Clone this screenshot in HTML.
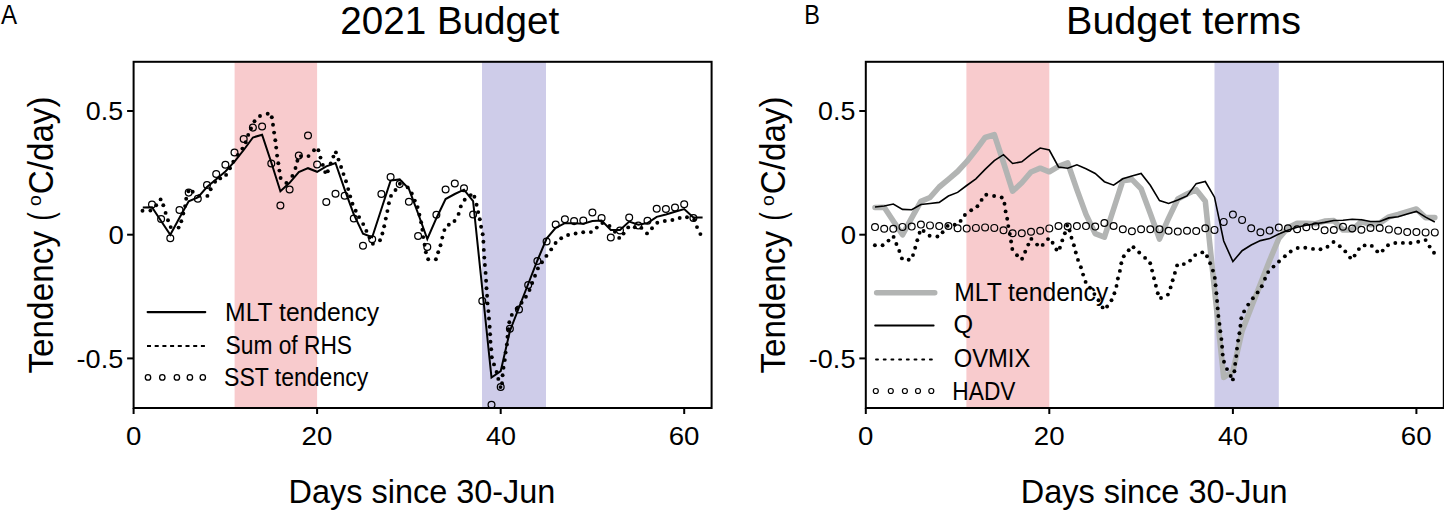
<!DOCTYPE html>
<html><head><meta charset="utf-8"><style>
html,body{margin:0;padding:0;background:#fff;overflow:hidden;}
svg{display:block;}
text{font-family:"Liberation Sans", sans-serif;fill:#000;}
</style></head><body>
<svg width="1444" height="510" viewBox="0 0 1444 510">
<text x="1.01" y="24.1" font-size="28.4" textLength="16.09" lengthAdjust="spacingAndGlyphs">A</text>
<text x="804.27" y="24.1" font-size="28.4" textLength="15.67" lengthAdjust="spacingAndGlyphs">B</text>
<text x="340.26" y="34.0" font-size="39.5" textLength="219.02" lengthAdjust="spacingAndGlyphs">2021 Budget</text>
<text x="1066.06" y="34.0" font-size="39.5" textLength="234.97" lengthAdjust="spacingAndGlyphs">Budget terms</text>
<rect x="234.6" y="61.8" width="82.5" height="346.2" fill="#f8cbcd"/>
<rect x="482.0" y="61.8" width="64.0" height="346.2" fill="#cecce9"/>
<g fill="#000"><circle cx="142.5" cy="210.8" r="1.95"/><circle cx="150.4" cy="210.6" r="1.95"/><circle cx="156.2" cy="205.3" r="1.95"/><circle cx="160.6" cy="199.4" r="1.95"/><circle cx="163.3" cy="205.3" r="1.95"/><circle cx="165.6" cy="212.9" r="1.95"/><circle cx="168" cy="220.2" r="1.95"/><circle cx="170.7" cy="227.1" r="1.95"/><circle cx="178.6" cy="227.6" r="1.95"/><circle cx="181.3" cy="221.2" r="1.95"/><circle cx="183.3" cy="213.5" r="1.95"/><circle cx="185.1" cy="206.1" r="1.95"/><circle cx="186.2" cy="198.8" r="1.95"/><circle cx="188.4" cy="191.2" r="1.95"/><circle cx="192.7" cy="191.8" r="1.95"/><circle cx="199.2" cy="195.9" r="1.95"/><circle cx="207.4" cy="195.9" r="1.95"/><circle cx="210.7" cy="189.2" r="1.95"/><circle cx="215.1" cy="181.8" r="1.95"/><circle cx="220.2" cy="178.4" r="1.95"/><circle cx="226.1" cy="174.9" r="1.95"/><circle cx="230" cy="168.2" r="1.95"/><circle cx="233.3" cy="161.8" r="1.95"/><circle cx="237.8" cy="154.9" r="1.95"/><circle cx="242.4" cy="148.6" r="1.95"/><circle cx="245.7" cy="142.2" r="1.95"/><circle cx="248.2" cy="134.9" r="1.95"/><circle cx="251" cy="128.4" r="1.95"/><circle cx="254.5" cy="121.2" r="1.95"/><circle cx="260" cy="116" r="1.95"/><circle cx="267.7" cy="113.8" r="1.95"/><circle cx="271.8" cy="117.3" r="1.95"/><circle cx="273" cy="124.7" r="1.95"/><circle cx="274.1" cy="132.6" r="1.95"/><circle cx="275.3" cy="140.2" r="1.95"/><circle cx="276.2" cy="147.6" r="1.95"/><circle cx="277.1" cy="155.6" r="1.95"/><circle cx="278.3" cy="163.2" r="1.95"/><circle cx="279.4" cy="170.6" r="1.95"/><circle cx="280.6" cy="178" r="1.95"/><circle cx="286.4" cy="182.9" r="1.95"/><circle cx="292.4" cy="175.9" r="1.95"/><circle cx="295.5" cy="168" r="1.95"/><circle cx="297.4" cy="160.8" r="1.95"/><circle cx="300.9" cy="156.1" r="1.95"/><circle cx="308.5" cy="156.1" r="1.95"/><circle cx="314" cy="150.3" r="1.95"/><circle cx="318.4" cy="150.3" r="1.95"/><circle cx="320.5" cy="157.6" r="1.95"/><circle cx="322.8" cy="164.9" r="1.95"/><circle cx="325.2" cy="172.1" r="1.95"/><circle cx="327.8" cy="171.2" r="1.95"/><circle cx="330.7" cy="163.5" r="1.95"/><circle cx="333.4" cy="156.6" r="1.95"/><circle cx="335.9" cy="152.4" r="1.95"/><circle cx="338.5" cy="159.6" r="1.95"/><circle cx="341.1" cy="167" r="1.95"/><circle cx="343.5" cy="174.1" r="1.95"/><circle cx="346" cy="181.3" r="1.95"/><circle cx="348.2" cy="189.1" r="1.95"/><circle cx="350.2" cy="196.4" r="1.95"/><circle cx="352.5" cy="203.7" r="1.95"/><circle cx="355.7" cy="210.8" r="1.95"/><circle cx="359.1" cy="217.1" r="1.95"/><circle cx="363.2" cy="224.1" r="1.95"/><circle cx="366.4" cy="230.9" r="1.95"/><circle cx="369.5" cy="237.5" r="1.95"/><circle cx="372.9" cy="243.7" r="1.95"/><circle cx="380" cy="240.3" r="1.95"/><circle cx="382.4" cy="233.5" r="1.95"/><circle cx="384.2" cy="226.2" r="1.95"/><circle cx="385.8" cy="218.6" r="1.95"/><circle cx="387.4" cy="211.1" r="1.95"/><circle cx="388.9" cy="203.3" r="1.95"/><circle cx="391" cy="195.9" r="1.95"/><circle cx="395.5" cy="190" r="1.95"/><circle cx="399.9" cy="183.8" r="1.95"/><circle cx="407.7" cy="187.4" r="1.95"/><circle cx="411.8" cy="193.5" r="1.95"/><circle cx="414.8" cy="200.6" r="1.95"/><circle cx="417.6" cy="207.1" r="1.95"/><circle cx="419.4" cy="214.7" r="1.95"/><circle cx="421.1" cy="222.3" r="1.95"/><circle cx="422.4" cy="229.7" r="1.95"/><circle cx="423.2" cy="237.1" r="1.95"/><circle cx="424.6" cy="244.7" r="1.95"/><circle cx="425.9" cy="252.3" r="1.95"/><circle cx="428.2" cy="259.3" r="1.95"/><circle cx="435.9" cy="259.3" r="1.95"/><circle cx="438.2" cy="252.3" r="1.95"/><circle cx="440.5" cy="245.2" r="1.95"/><circle cx="442.3" cy="237.6" r="1.95"/><circle cx="444.4" cy="230.1" r="1.95"/><circle cx="448.8" cy="224.8" r="1.95"/><circle cx="454.5" cy="221" r="1.95"/><circle cx="458.6" cy="213.9" r="1.95"/><circle cx="460.8" cy="206.4" r="1.95"/><circle cx="464.7" cy="199.7" r="1.95"/><circle cx="470.7" cy="195.1" r="1.95"/><circle cx="474.4" cy="196.7" r="1.95"/><circle cx="476.6" cy="204.8" r="1.95"/><circle cx="478.2" cy="212.1" r="1.95"/><circle cx="479.8" cy="219.3" r="1.95"/><circle cx="481.1" cy="226.7" r="1.95"/><circle cx="482.7" cy="234.2" r="1.95"/><circle cx="483.4" cy="241.8" r="1.95"/><circle cx="483.8" cy="249.9" r="1.95"/><circle cx="484.3" cy="257.6" r="1.95"/><circle cx="484.9" cy="265" r="1.95"/><circle cx="485.6" cy="272.9" r="1.95"/><circle cx="486.1" cy="280.8" r="1.95"/><circle cx="486.5" cy="288.3" r="1.95"/><circle cx="487.1" cy="295.7" r="1.95"/><circle cx="487.5" cy="303.4" r="1.95"/><circle cx="488.4" cy="311.1" r="1.95"/><circle cx="489" cy="318.5" r="1.95"/><circle cx="489.7" cy="326.7" r="1.95"/><circle cx="490.1" cy="334.2" r="1.95"/><circle cx="490.5" cy="341.8" r="1.95"/><circle cx="491.2" cy="349.3" r="1.95"/><circle cx="491.8" cy="357.3" r="1.95"/><circle cx="494" cy="364.4" r="1.95"/><circle cx="496.6" cy="372" r="1.95"/><circle cx="498.3" cy="378.9" r="1.95"/><circle cx="500.5" cy="387.1" r="1.95"/><circle cx="502" cy="383.2" r="1.95"/><circle cx="502.6" cy="375.2" r="1.95"/><circle cx="503.5" cy="367.7" r="1.95"/><circle cx="504.8" cy="360.1" r="1.95"/><circle cx="505.6" cy="352.6" r="1.95"/><circle cx="506.9" cy="344.4" r="1.95"/><circle cx="507.5" cy="336.8" r="1.95"/><circle cx="508.5" cy="329.3" r="1.95"/><circle cx="509.3" cy="322.2" r="1.95"/><circle cx="511.8" cy="314.9" r="1.95"/><circle cx="516.7" cy="308.8" r="1.95"/><circle cx="521.6" cy="302.7" r="1.95"/><circle cx="525.9" cy="296.7" r="1.95"/><circle cx="529.5" cy="290" r="1.95"/><circle cx="532.2" cy="283" r="1.95"/><circle cx="535" cy="275.8" r="1.95"/><circle cx="537.9" cy="268.4" r="1.95"/><circle cx="542" cy="262.2" r="1.95"/><circle cx="546.4" cy="255.9" r="1.95"/><circle cx="551.2" cy="249.4" r="1.95"/><circle cx="555.6" cy="243" r="1.95"/><circle cx="561.2" cy="238.2" r="1.95"/><circle cx="568.1" cy="235" r="1.95"/><circle cx="575.6" cy="233.5" r="1.95"/><circle cx="583.2" cy="232.2" r="1.95"/><circle cx="590.9" cy="232.1" r="1.95"/><circle cx="596.8" cy="227.6" r="1.95"/><circle cx="602.4" cy="223" r="1.95"/><circle cx="609.5" cy="226" r="1.95"/><circle cx="614.9" cy="231.7" r="1.95"/><circle cx="619.2" cy="237.9" r="1.95"/><circle cx="623.6" cy="233.6" r="1.95"/><circle cx="628.2" cy="227.4" r="1.95"/><circle cx="634.8" cy="227.3" r="1.95"/><circle cx="641.4" cy="227.9" r="1.95"/><circle cx="647" cy="233.4" r="1.95"/><circle cx="652" cy="228.2" r="1.95"/><circle cx="657.3" cy="222.8" r="1.95"/><circle cx="664.8" cy="221" r="1.95"/><circle cx="672.4" cy="220" r="1.95"/><circle cx="679.7" cy="218" r="1.95"/><circle cx="687" cy="217.3" r="1.95"/><circle cx="694.2" cy="219.7" r="1.95"/><circle cx="697" cy="227.1" r="1.95"/><circle cx="700.4" cy="234.1" r="1.95"/></g>
<polyline points="142.8,207.5 152.0,207.3 161.1,221.0 170.3,234.8 179.5,217.8 188.7,201.3 197.8,197.5 207.0,187.0 216.2,179.3 225.4,171.5 234.5,161.7 243.7,150.0 252.9,137.5 262.1,134.7 271.3,162.5 280.4,191.2 289.6,182.8 298.8,172.0 308.0,168.2 317.1,171.8 326.3,166.3 335.5,163.0 344.7,189.7 353.8,214.4 363.0,233.6 372.2,237.2 381.4,209.0 390.6,180.6 399.7,179.4 408.9,188.8 418.1,213.5 427.3,239.0 436.4,218.2 445.6,199.0 454.8,194.0 464.0,189.7 473.1,201.2 482.3,289.0 491.5,377.5 500.7,371.2 509.9,331.0 519.0,307.5 528.2,284.0 537.4,260.5 546.6,238.5 555.7,227.8 564.9,223.2 574.1,223.2 583.3,223.7 592.4,221.1 601.6,220.6 610.8,230.0 620.0,229.9 629.2,221.6 638.3,224.7 647.5,223.1 656.7,216.9 665.9,214.5 675.0,211.8 684.2,209.0 693.4,217.6 702.6,217.6" fill="none" stroke="#000" stroke-width="2" stroke-linejoin="miter"/>
<circle cx="152.0" cy="204.6" r="3.4" fill="none" stroke="#000" stroke-width="1.25"/>
<circle cx="161.1" cy="218.9" r="3.4" fill="none" stroke="#000" stroke-width="1.25"/>
<circle cx="170.3" cy="238.3" r="3.4" fill="none" stroke="#000" stroke-width="1.25"/>
<circle cx="179.5" cy="210.0" r="3.4" fill="none" stroke="#000" stroke-width="1.25"/>
<circle cx="188.7" cy="192.6" r="3.4" fill="none" stroke="#000" stroke-width="1.25"/>
<circle cx="197.8" cy="198.8" r="3.4" fill="none" stroke="#000" stroke-width="1.25"/>
<circle cx="207.0" cy="185.0" r="3.4" fill="none" stroke="#000" stroke-width="1.25"/>
<circle cx="216.2" cy="174.0" r="3.4" fill="none" stroke="#000" stroke-width="1.25"/>
<circle cx="225.4" cy="164.8" r="3.4" fill="none" stroke="#000" stroke-width="1.25"/>
<circle cx="234.5" cy="152.4" r="3.4" fill="none" stroke="#000" stroke-width="1.25"/>
<circle cx="243.7" cy="138.9" r="3.4" fill="none" stroke="#000" stroke-width="1.25"/>
<circle cx="252.9" cy="127.6" r="3.4" fill="none" stroke="#000" stroke-width="1.25"/>
<circle cx="262.1" cy="126.5" r="3.4" fill="none" stroke="#000" stroke-width="1.25"/>
<circle cx="271.3" cy="163.4" r="3.4" fill="none" stroke="#000" stroke-width="1.25"/>
<circle cx="280.4" cy="205.4" r="3.4" fill="none" stroke="#000" stroke-width="1.25"/>
<circle cx="289.6" cy="189.5" r="3.4" fill="none" stroke="#000" stroke-width="1.25"/>
<circle cx="298.8" cy="155.6" r="3.4" fill="none" stroke="#000" stroke-width="1.25"/>
<circle cx="308.0" cy="135.5" r="3.4" fill="none" stroke="#000" stroke-width="1.25"/>
<circle cx="317.1" cy="164.4" r="3.4" fill="none" stroke="#000" stroke-width="1.25"/>
<circle cx="326.3" cy="202.0" r="3.4" fill="none" stroke="#000" stroke-width="1.25"/>
<circle cx="335.5" cy="193.8" r="3.4" fill="none" stroke="#000" stroke-width="1.25"/>
<circle cx="344.7" cy="195.7" r="3.4" fill="none" stroke="#000" stroke-width="1.25"/>
<circle cx="353.8" cy="218.5" r="3.4" fill="none" stroke="#000" stroke-width="1.25"/>
<circle cx="363.0" cy="245.7" r="3.4" fill="none" stroke="#000" stroke-width="1.25"/>
<circle cx="372.2" cy="239.2" r="3.4" fill="none" stroke="#000" stroke-width="1.25"/>
<circle cx="381.4" cy="194.0" r="3.4" fill="none" stroke="#000" stroke-width="1.25"/>
<circle cx="390.6" cy="177.1" r="3.4" fill="none" stroke="#000" stroke-width="1.25"/>
<circle cx="399.7" cy="184.1" r="3.4" fill="none" stroke="#000" stroke-width="1.25"/>
<circle cx="408.9" cy="201.8" r="3.4" fill="none" stroke="#000" stroke-width="1.25"/>
<circle cx="418.1" cy="235.9" r="3.4" fill="none" stroke="#000" stroke-width="1.25"/>
<circle cx="427.3" cy="246.9" r="3.4" fill="none" stroke="#000" stroke-width="1.25"/>
<circle cx="436.4" cy="214.7" r="3.4" fill="none" stroke="#000" stroke-width="1.25"/>
<circle cx="445.6" cy="189.5" r="3.4" fill="none" stroke="#000" stroke-width="1.25"/>
<circle cx="454.8" cy="183.4" r="3.4" fill="none" stroke="#000" stroke-width="1.25"/>
<circle cx="464.0" cy="188.3" r="3.4" fill="none" stroke="#000" stroke-width="1.25"/>
<circle cx="473.1" cy="214.4" r="3.4" fill="none" stroke="#000" stroke-width="1.25"/>
<circle cx="482.3" cy="301.0" r="3.4" fill="none" stroke="#000" stroke-width="1.25"/>
<circle cx="491.5" cy="404.8" r="3.4" fill="none" stroke="#000" stroke-width="1.25"/>
<circle cx="500.7" cy="387.0" r="3.4" fill="none" stroke="#000" stroke-width="1.25"/>
<circle cx="509.9" cy="328.8" r="3.4" fill="none" stroke="#000" stroke-width="1.25"/>
<circle cx="519.0" cy="309.4" r="3.4" fill="none" stroke="#000" stroke-width="1.25"/>
<circle cx="528.2" cy="284.9" r="3.4" fill="none" stroke="#000" stroke-width="1.25"/>
<circle cx="537.4" cy="261.0" r="3.4" fill="none" stroke="#000" stroke-width="1.25"/>
<circle cx="546.6" cy="241.5" r="3.4" fill="none" stroke="#000" stroke-width="1.25"/>
<circle cx="555.7" cy="224.4" r="3.4" fill="none" stroke="#000" stroke-width="1.25"/>
<circle cx="564.9" cy="219.3" r="3.4" fill="none" stroke="#000" stroke-width="1.25"/>
<circle cx="574.1" cy="221.1" r="3.4" fill="none" stroke="#000" stroke-width="1.25"/>
<circle cx="583.3" cy="220.6" r="3.4" fill="none" stroke="#000" stroke-width="1.25"/>
<circle cx="592.4" cy="212.5" r="3.4" fill="none" stroke="#000" stroke-width="1.25"/>
<circle cx="601.6" cy="218.1" r="3.4" fill="none" stroke="#000" stroke-width="1.25"/>
<circle cx="610.8" cy="237.5" r="3.4" fill="none" stroke="#000" stroke-width="1.25"/>
<circle cx="620.0" cy="230.5" r="3.4" fill="none" stroke="#000" stroke-width="1.25"/>
<circle cx="629.2" cy="217.6" r="3.4" fill="none" stroke="#000" stroke-width="1.25"/>
<circle cx="638.3" cy="225.5" r="3.4" fill="none" stroke="#000" stroke-width="1.25"/>
<circle cx="647.5" cy="220.8" r="3.4" fill="none" stroke="#000" stroke-width="1.25"/>
<circle cx="656.7" cy="208.7" r="3.4" fill="none" stroke="#000" stroke-width="1.25"/>
<circle cx="665.9" cy="209.0" r="3.4" fill="none" stroke="#000" stroke-width="1.25"/>
<circle cx="675.0" cy="207.4" r="3.4" fill="none" stroke="#000" stroke-width="1.25"/>
<circle cx="684.2" cy="204.3" r="3.4" fill="none" stroke="#000" stroke-width="1.25"/>
<circle cx="693.4" cy="218.0" r="3.4" fill="none" stroke="#000" stroke-width="1.25"/>
<line x1="147.6" y1="312.1" x2="205.3" y2="312.1" stroke="#000" stroke-width="2.1" stroke-linecap="round"/>
<line x1="147" y1="346.1" x2="206" y2="346.1" stroke="#000" stroke-width="2" stroke-dasharray="4 3.7"/>
<circle cx="148.0" cy="377.4" r="2.7" fill="none" stroke="#000" stroke-width="1.3"/>
<circle cx="162.3" cy="377.4" r="2.7" fill="none" stroke="#000" stroke-width="1.3"/>
<circle cx="176.9" cy="377.4" r="2.7" fill="none" stroke="#000" stroke-width="1.3"/>
<circle cx="189.9" cy="377.4" r="2.7" fill="none" stroke="#000" stroke-width="1.3"/>
<circle cx="202.8" cy="377.4" r="2.7" fill="none" stroke="#000" stroke-width="1.3"/>
<text x="225.11" y="320.5" font-size="25" textLength="154.04" lengthAdjust="spacingAndGlyphs">MLT tendency</text>
<text x="225.57" y="353.6" font-size="25" textLength="126.48" lengthAdjust="spacingAndGlyphs">Sum of RHS</text>
<text x="224.06" y="386.1" font-size="25" textLength="144.19" lengthAdjust="spacingAndGlyphs">SST tendency</text>
<rect x="133.6" y="61.8" width="578.0" height="346.2" fill="none" stroke="#000" stroke-width="2"/>
<line x1="127.1" y1="111.0" x2="133.6" y2="111.0" stroke="#000" stroke-width="2"/>
<line x1="127.1" y1="234.7" x2="133.6" y2="234.7" stroke="#000" stroke-width="2"/>
<line x1="127.1" y1="358.4" x2="133.6" y2="358.4" stroke="#000" stroke-width="2"/>
<line x1="133.6" y1="408.0" x2="133.6" y2="414.0" stroke="#000" stroke-width="2"/>
<text x="125.92" y="444.5" font-size="26" textLength="15.36" lengthAdjust="spacingAndGlyphs">0</text>
<line x1="317.1" y1="408.0" x2="317.1" y2="414.0" stroke="#000" stroke-width="2"/>
<text x="301.60" y="444.5" font-size="26" textLength="30.77" lengthAdjust="spacingAndGlyphs">20</text>
<line x1="500.7" y1="408.0" x2="500.7" y2="414.0" stroke="#000" stroke-width="2"/>
<text x="485.91" y="444.5" font-size="26" textLength="29.97" lengthAdjust="spacingAndGlyphs">40</text>
<line x1="684.2" y1="408.0" x2="684.2" y2="414.0" stroke="#000" stroke-width="2"/>
<text x="668.66" y="444.5" font-size="26" textLength="30.79" lengthAdjust="spacingAndGlyphs">60</text>
<text x="85.85" y="120.4" font-size="26" textLength="37.27" lengthAdjust="spacingAndGlyphs">0.5</text>
<text x="108.52" y="243.9" font-size="26" textLength="15.36" lengthAdjust="spacingAndGlyphs">0</text>
<text x="76.60" y="367.9" font-size="26" textLength="46.64" lengthAdjust="spacingAndGlyphs">-0.5</text>
<text x="288.54" y="502.8" font-size="34" textLength="266.87" lengthAdjust="spacingAndGlyphs">Days since 30-Jun</text>
<text transform="translate(52.60,372.90) rotate(-90)" x="-0.73" y="0" font-size="34.3" textLength="142.69" lengthAdjust="spacingAndGlyphs">Tendency</text>
<text transform="translate(52.60,218.90) rotate(-90)" x="-1.52" y="0" font-size="34.3" textLength="8.16" lengthAdjust="spacingAndGlyphs">(</text>
<text transform="translate(41.30,205.20) rotate(-90)" x="-0.81" y="0" font-size="19" textLength="10.72" lengthAdjust="spacingAndGlyphs">o</text>
<text transform="translate(52.60,192.50) rotate(-90)" x="-1.68" y="0" font-size="34.3" textLength="97.64" lengthAdjust="spacingAndGlyphs">C/day)</text>
<rect x="966.4" y="61.8" width="82.9" height="346.2" fill="#f8cbcd"/>
<rect x="1214.5" y="61.8" width="64.3" height="346.2" fill="#cecce9"/>
<polyline points="875.0,207.5 884.2,207.3 893.3,221.0 902.5,234.8 911.7,217.8 920.9,201.3 930.0,197.5 939.2,187.0 948.4,179.3 957.6,171.5 966.7,161.7 975.9,150.0 985.1,137.5 994.3,134.7 1003.5,162.5 1012.6,191.2 1021.8,182.8 1031.0,172.0 1040.2,168.2 1049.3,171.8 1058.5,166.3 1067.7,163.0 1076.9,189.7 1086.0,214.4 1095.2,233.6 1104.4,237.2 1113.6,209.0 1122.8,180.6 1131.9,179.4 1141.1,188.8 1150.3,213.5 1159.5,239.0 1168.6,218.2 1177.8,199.0 1187.0,194.0 1196.2,189.7 1205.3,201.2 1214.5,289.0 1223.7,377.5 1232.9,371.2 1242.1,331.0 1251.2,307.5 1260.4,284.0 1269.6,260.5 1278.8,238.5 1287.9,227.8 1297.1,223.2 1306.3,223.2 1315.5,223.7 1324.6,221.1 1333.8,220.6 1343.0,230.0 1352.2,229.9 1361.4,221.6 1370.5,224.7 1379.7,223.1 1388.9,216.9 1398.1,214.5 1407.2,211.8 1416.4,209.0 1425.6,217.6 1434.8,217.6" fill="none" stroke="#b2b4b3" stroke-width="5.6" stroke-linejoin="round" stroke-linecap="round"/>
<g fill="#000"><circle cx="874.9" cy="245.2" r="1.95"/><circle cx="882.6" cy="245.2" r="1.95"/><circle cx="888.5" cy="240.6" r="1.95"/><circle cx="893.6" cy="236.9" r="1.95"/><circle cx="896.4" cy="244" r="1.95"/><circle cx="899.3" cy="251" r="1.95"/><circle cx="901.9" cy="258.4" r="1.95"/><circle cx="908.7" cy="259.7" r="1.95"/><circle cx="913" cy="255.1" r="1.95"/><circle cx="915.2" cy="247.7" r="1.95"/><circle cx="917.3" cy="240.3" r="1.95"/><circle cx="919.6" cy="232.7" r="1.95"/><circle cx="923.6" cy="231" r="1.95"/><circle cx="929.6" cy="235.8" r="1.95"/><circle cx="937.4" cy="236.5" r="1.95"/><circle cx="942.6" cy="232.3" r="1.95"/><circle cx="947.6" cy="225.9" r="1.95"/><circle cx="954.7" cy="224.8" r="1.95"/><circle cx="960.6" cy="220.9" r="1.95"/><circle cx="964.9" cy="215" r="1.95"/><circle cx="971.2" cy="210.3" r="1.95"/><circle cx="977.4" cy="206.2" r="1.95"/><circle cx="981.6" cy="199.9" r="1.95"/><circle cx="986.3" cy="194.7" r="1.95"/><circle cx="994.1" cy="196" r="1.95"/><circle cx="1001.7" cy="197.5" r="1.95"/><circle cx="1004.5" cy="203.8" r="1.95"/><circle cx="1005.6" cy="211.4" r="1.95"/><circle cx="1007.2" cy="218.7" r="1.95"/><circle cx="1008.3" cy="226.1" r="1.95"/><circle cx="1009.8" cy="233.9" r="1.95"/><circle cx="1011.1" cy="241.5" r="1.95"/><circle cx="1012.3" cy="249" r="1.95"/><circle cx="1017" cy="255.3" r="1.95"/><circle cx="1022.1" cy="258.7" r="1.95"/><circle cx="1025.2" cy="251.7" r="1.95"/><circle cx="1028.3" cy="244.6" r="1.95"/><circle cx="1031.4" cy="238.9" r="1.95"/><circle cx="1037.1" cy="244.6" r="1.95"/><circle cx="1042.7" cy="244.9" r="1.95"/><circle cx="1048" cy="239.1" r="1.95"/><circle cx="1052.6" cy="242.8" r="1.95"/><circle cx="1056.4" cy="249.5" r="1.95"/><circle cx="1059.9" cy="247.7" r="1.95"/><circle cx="1062.3" cy="240.4" r="1.95"/><circle cx="1064.9" cy="233.3" r="1.95"/><circle cx="1067.2" cy="225.6" r="1.95"/><circle cx="1069.6" cy="230.5" r="1.95"/><circle cx="1071.5" cy="237.8" r="1.95"/><circle cx="1073.9" cy="245.2" r="1.95"/><circle cx="1075.8" cy="252.5" r="1.95"/><circle cx="1078" cy="259.9" r="1.95"/><circle cx="1080.9" cy="267.2" r="1.95"/><circle cx="1083.1" cy="274.6" r="1.95"/><circle cx="1085.6" cy="281.9" r="1.95"/><circle cx="1090" cy="287.8" r="1.95"/><circle cx="1094.4" cy="294.1" r="1.95"/><circle cx="1098.5" cy="300.3" r="1.95"/><circle cx="1102.6" cy="307.4" r="1.95"/><circle cx="1107.1" cy="306.5" r="1.95"/><circle cx="1111.5" cy="300.3" r="1.95"/><circle cx="1114.4" cy="293.2" r="1.95"/><circle cx="1116.5" cy="285.9" r="1.95"/><circle cx="1117.9" cy="278.5" r="1.95"/><circle cx="1119.9" cy="270.9" r="1.95"/><circle cx="1121.3" cy="263.2" r="1.95"/><circle cx="1123.8" cy="256.2" r="1.95"/><circle cx="1128.7" cy="250.3" r="1.95"/><circle cx="1133.5" cy="247.2" r="1.95"/><circle cx="1139.2" cy="252.5" r="1.95"/><circle cx="1145.1" cy="257.9" r="1.95"/><circle cx="1150.2" cy="263.3" r="1.95"/><circle cx="1152.1" cy="270.6" r="1.95"/><circle cx="1154" cy="278.3" r="1.95"/><circle cx="1155.9" cy="285.7" r="1.95"/><circle cx="1157.8" cy="293.3" r="1.95"/><circle cx="1161" cy="298" r="1.95"/><circle cx="1167.9" cy="294.6" r="1.95"/><circle cx="1170.6" cy="287.4" r="1.95"/><circle cx="1172.7" cy="280.2" r="1.95"/><circle cx="1174.9" cy="272.9" r="1.95"/><circle cx="1177.1" cy="265.4" r="1.95"/><circle cx="1183.8" cy="264.1" r="1.95"/><circle cx="1190.1" cy="260.6" r="1.95"/><circle cx="1195.2" cy="255.1" r="1.95"/><circle cx="1202.3" cy="252.4" r="1.95"/><circle cx="1207" cy="256.2" r="1.95"/><circle cx="1210.1" cy="263.3" r="1.95"/><circle cx="1212.9" cy="270.6" r="1.95"/><circle cx="1214.8" cy="277.9" r="1.95"/><circle cx="1215.6" cy="285.3" r="1.95"/><circle cx="1216.4" cy="293.2" r="1.95"/><circle cx="1217.1" cy="301" r="1.95"/><circle cx="1217.7" cy="308.4" r="1.95"/><circle cx="1218.4" cy="316" r="1.95"/><circle cx="1219.5" cy="323.9" r="1.95"/><circle cx="1220.3" cy="331.3" r="1.95"/><circle cx="1221.4" cy="339.1" r="1.95"/><circle cx="1222.1" cy="346.8" r="1.95"/><circle cx="1222.7" cy="354.6" r="1.95"/><circle cx="1224" cy="361.7" r="1.95"/><circle cx="1227" cy="369.1" r="1.95"/><circle cx="1230.7" cy="376" r="1.95"/><circle cx="1232.9" cy="379.4" r="1.95"/><circle cx="1234.4" cy="371.3" r="1.95"/><circle cx="1235.2" cy="363.9" r="1.95"/><circle cx="1236.3" cy="356.1" r="1.95"/><circle cx="1237" cy="348.6" r="1.95"/><circle cx="1238.1" cy="340.6" r="1.95"/><circle cx="1239.4" cy="333.2" r="1.95"/><circle cx="1240.4" cy="325.7" r="1.95"/><circle cx="1241.3" cy="318.3" r="1.95"/><circle cx="1244.1" cy="311.4" r="1.95"/><circle cx="1248.2" cy="304.6" r="1.95"/><circle cx="1252.9" cy="298.2" r="1.95"/><circle cx="1257.6" cy="292.4" r="1.95"/><circle cx="1261.8" cy="286.2" r="1.95"/><circle cx="1265" cy="278.8" r="1.95"/><circle cx="1268.2" cy="272.1" r="1.95"/><circle cx="1273.5" cy="266.6" r="1.95"/><circle cx="1279" cy="261.5" r="1.95"/><circle cx="1284.9" cy="256.3" r="1.95"/><circle cx="1290.7" cy="251.5" r="1.95"/><circle cx="1297.7" cy="248" r="1.95"/><circle cx="1305.3" cy="247.7" r="1.95"/><circle cx="1313" cy="248.9" r="1.95"/><circle cx="1320.5" cy="249.3" r="1.95"/><circle cx="1327.5" cy="246.7" r="1.95"/><circle cx="1333.5" cy="242" r="1.95"/><circle cx="1339.8" cy="246.2" r="1.95"/><circle cx="1345.3" cy="251.4" r="1.95"/><circle cx="1350.1" cy="257.6" r="1.95"/><circle cx="1354.6" cy="255.6" r="1.95"/><circle cx="1358.9" cy="249.1" r="1.95"/><circle cx="1364.6" cy="245.4" r="1.95"/><circle cx="1371.8" cy="245.9" r="1.95"/><circle cx="1377.2" cy="251.4" r="1.95"/><circle cx="1382.7" cy="250.6" r="1.95"/><circle cx="1388" cy="245.3" r="1.95"/><circle cx="1395.3" cy="243" r="1.95"/><circle cx="1402.9" cy="242.9" r="1.95"/><circle cx="1410.5" cy="243" r="1.95"/><circle cx="1418.2" cy="241.8" r="1.95"/><circle cx="1425.6" cy="240.1" r="1.95"/><circle cx="1429.6" cy="246.6" r="1.95"/><circle cx="1434" cy="252.8" r="1.95"/></g>
<polyline points="875.0,207.0 884.2,206.0 893.3,204.0 902.5,209.4 911.7,209.8 920.9,204.5 930.0,203.5 939.2,202.4 948.4,196.0 957.6,192.4 966.7,185.5 975.9,178.8 985.1,169.4 994.3,160.6 1003.5,154.7 1012.6,163.5 1021.8,161.8 1031.0,154.4 1040.2,148.0 1049.3,150.0 1058.5,167.0 1067.7,168.3 1076.9,164.8 1086.0,168.8 1095.2,173.5 1104.4,181.7 1113.6,185.2 1122.8,178.8 1131.9,175.9 1141.1,173.5 1150.3,185.3 1159.5,200.6 1168.6,203.4 1177.8,200.1 1187.0,195.9 1196.2,183.6 1205.3,181.5 1214.5,197.2 1223.7,241.0 1232.9,261.6 1242.1,250.7 1251.2,245.0 1260.4,240.6 1269.6,238.6 1278.8,234.1 1287.9,230.2 1297.1,227.3 1306.3,225.3 1315.5,223.7 1324.6,222.4 1333.8,220.5 1343.0,220.2 1352.2,219.2 1361.4,219.7 1370.5,221.5 1379.7,221.5 1388.9,217.9 1398.1,216.7 1407.2,213.9 1416.4,211.4 1425.6,217.1 1434.8,222.0" fill="none" stroke="#000" stroke-width="1.6"/>
<circle cx="875.0" cy="227.1" r="3.4" fill="none" stroke="#000" stroke-width="1.2"/>
<circle cx="884.2" cy="228.8" r="3.4" fill="none" stroke="#000" stroke-width="1.2"/>
<circle cx="893.3" cy="228.8" r="3.4" fill="none" stroke="#000" stroke-width="1.2"/>
<circle cx="902.5" cy="226.9" r="3.4" fill="none" stroke="#000" stroke-width="1.2"/>
<circle cx="911.7" cy="226.6" r="3.4" fill="none" stroke="#000" stroke-width="1.2"/>
<circle cx="920.9" cy="224.6" r="3.4" fill="none" stroke="#000" stroke-width="1.2"/>
<circle cx="930.0" cy="225.4" r="3.4" fill="none" stroke="#000" stroke-width="1.2"/>
<circle cx="939.2" cy="226.1" r="3.4" fill="none" stroke="#000" stroke-width="1.2"/>
<circle cx="948.4" cy="226.0" r="3.4" fill="none" stroke="#000" stroke-width="1.2"/>
<circle cx="957.6" cy="228.3" r="3.4" fill="none" stroke="#000" stroke-width="1.2"/>
<circle cx="966.7" cy="228.6" r="3.4" fill="none" stroke="#000" stroke-width="1.2"/>
<circle cx="975.9" cy="227.9" r="3.4" fill="none" stroke="#000" stroke-width="1.2"/>
<circle cx="985.1" cy="227.4" r="3.4" fill="none" stroke="#000" stroke-width="1.2"/>
<circle cx="994.3" cy="227.9" r="3.4" fill="none" stroke="#000" stroke-width="1.2"/>
<circle cx="1003.5" cy="230.3" r="3.4" fill="none" stroke="#000" stroke-width="1.2"/>
<circle cx="1012.6" cy="233.2" r="3.4" fill="none" stroke="#000" stroke-width="1.2"/>
<circle cx="1021.8" cy="233.2" r="3.4" fill="none" stroke="#000" stroke-width="1.2"/>
<circle cx="1031.0" cy="231.7" r="3.4" fill="none" stroke="#000" stroke-width="1.2"/>
<circle cx="1040.2" cy="230.7" r="3.4" fill="none" stroke="#000" stroke-width="1.2"/>
<circle cx="1049.3" cy="228.4" r="3.4" fill="none" stroke="#000" stroke-width="1.2"/>
<circle cx="1058.5" cy="226.0" r="3.4" fill="none" stroke="#000" stroke-width="1.2"/>
<circle cx="1067.7" cy="226.5" r="3.4" fill="none" stroke="#000" stroke-width="1.2"/>
<circle cx="1076.9" cy="226.1" r="3.4" fill="none" stroke="#000" stroke-width="1.2"/>
<circle cx="1086.0" cy="226.1" r="3.4" fill="none" stroke="#000" stroke-width="1.2"/>
<circle cx="1095.2" cy="226.6" r="3.4" fill="none" stroke="#000" stroke-width="1.2"/>
<circle cx="1104.4" cy="223.0" r="3.4" fill="none" stroke="#000" stroke-width="1.2"/>
<circle cx="1113.6" cy="226.0" r="3.4" fill="none" stroke="#000" stroke-width="1.2"/>
<circle cx="1122.8" cy="229.2" r="3.4" fill="none" stroke="#000" stroke-width="1.2"/>
<circle cx="1131.9" cy="231.3" r="3.4" fill="none" stroke="#000" stroke-width="1.2"/>
<circle cx="1141.1" cy="229.3" r="3.4" fill="none" stroke="#000" stroke-width="1.2"/>
<circle cx="1150.3" cy="229.3" r="3.4" fill="none" stroke="#000" stroke-width="1.2"/>
<circle cx="1159.5" cy="229.3" r="3.4" fill="none" stroke="#000" stroke-width="1.2"/>
<circle cx="1168.6" cy="230.7" r="3.4" fill="none" stroke="#000" stroke-width="1.2"/>
<circle cx="1177.8" cy="231.6" r="3.4" fill="none" stroke="#000" stroke-width="1.2"/>
<circle cx="1187.0" cy="230.7" r="3.4" fill="none" stroke="#000" stroke-width="1.2"/>
<circle cx="1196.2" cy="231.1" r="3.4" fill="none" stroke="#000" stroke-width="1.2"/>
<circle cx="1205.3" cy="228.3" r="3.4" fill="none" stroke="#000" stroke-width="1.2"/>
<circle cx="1214.5" cy="229.9" r="3.4" fill="none" stroke="#000" stroke-width="1.2"/>
<circle cx="1223.7" cy="221.9" r="3.4" fill="none" stroke="#000" stroke-width="1.2"/>
<circle cx="1232.9" cy="214.6" r="3.4" fill="none" stroke="#000" stroke-width="1.2"/>
<circle cx="1242.1" cy="219.9" r="3.4" fill="none" stroke="#000" stroke-width="1.2"/>
<circle cx="1251.2" cy="228.2" r="3.4" fill="none" stroke="#000" stroke-width="1.2"/>
<circle cx="1260.4" cy="232.2" r="3.4" fill="none" stroke="#000" stroke-width="1.2"/>
<circle cx="1269.6" cy="230.6" r="3.4" fill="none" stroke="#000" stroke-width="1.2"/>
<circle cx="1278.8" cy="227.6" r="3.4" fill="none" stroke="#000" stroke-width="1.2"/>
<circle cx="1287.9" cy="228.2" r="3.4" fill="none" stroke="#000" stroke-width="1.2"/>
<circle cx="1297.1" cy="229.2" r="3.4" fill="none" stroke="#000" stroke-width="1.2"/>
<circle cx="1306.3" cy="227.3" r="3.4" fill="none" stroke="#000" stroke-width="1.2"/>
<circle cx="1315.5" cy="226.3" r="3.4" fill="none" stroke="#000" stroke-width="1.2"/>
<circle cx="1324.6" cy="230.2" r="3.4" fill="none" stroke="#000" stroke-width="1.2"/>
<circle cx="1333.8" cy="230.0" r="3.4" fill="none" stroke="#000" stroke-width="1.2"/>
<circle cx="1343.0" cy="226.8" r="3.4" fill="none" stroke="#000" stroke-width="1.2"/>
<circle cx="1352.2" cy="228.5" r="3.4" fill="none" stroke="#000" stroke-width="1.2"/>
<circle cx="1361.4" cy="229.8" r="3.4" fill="none" stroke="#000" stroke-width="1.2"/>
<circle cx="1370.5" cy="228.0" r="3.4" fill="none" stroke="#000" stroke-width="1.2"/>
<circle cx="1379.7" cy="228.0" r="3.4" fill="none" stroke="#000" stroke-width="1.2"/>
<circle cx="1388.9" cy="229.4" r="3.4" fill="none" stroke="#000" stroke-width="1.2"/>
<circle cx="1398.1" cy="230.8" r="3.4" fill="none" stroke="#000" stroke-width="1.2"/>
<circle cx="1407.2" cy="232.1" r="3.4" fill="none" stroke="#000" stroke-width="1.2"/>
<circle cx="1416.4" cy="232.1" r="3.4" fill="none" stroke="#000" stroke-width="1.2"/>
<circle cx="1425.6" cy="232.4" r="3.4" fill="none" stroke="#000" stroke-width="1.2"/>
<circle cx="1434.8" cy="232.4" r="3.4" fill="none" stroke="#000" stroke-width="1.2"/>
<line x1="876.6" y1="292.7" x2="934.8" y2="292.7" stroke="#b2b4b3" stroke-width="5.4" stroke-linecap="round"/>
<line x1="875.1" y1="325.5" x2="933.7" y2="325.5" stroke="#000" stroke-width="1.8" stroke-linecap="round"/>
<line x1="876" y1="359.45" x2="933" y2="359.45" stroke="#000" stroke-width="1.9" stroke-linecap="round" stroke-dasharray="2 5.7"/>
<circle cx="875.8" cy="391" r="2.5" fill="none" stroke="#000" stroke-width="1.2"/>
<circle cx="890.8" cy="391" r="2.5" fill="none" stroke="#000" stroke-width="1.2"/>
<circle cx="904.9" cy="391" r="2.5" fill="none" stroke="#000" stroke-width="1.2"/>
<circle cx="918.0" cy="391" r="2.5" fill="none" stroke="#000" stroke-width="1.2"/>
<circle cx="931.3" cy="391" r="2.5" fill="none" stroke="#000" stroke-width="1.2"/>
<text x="954.21" y="301.1" font-size="25" textLength="154.04" lengthAdjust="spacingAndGlyphs">MLT tendency</text>
<text x="953.41" y="332.6" font-size="25" textLength="19.60" lengthAdjust="spacingAndGlyphs">Q</text>
<text x="953.78" y="366.8" font-size="25" textLength="76.52" lengthAdjust="spacingAndGlyphs">OVMIX</text>
<text x="952.34" y="399.7" font-size="25" textLength="63.16" lengthAdjust="spacingAndGlyphs">HADV</text>
<rect x="865.8" y="61.8" width="578.0" height="346.2" fill="none" stroke="#000" stroke-width="2"/>
<line x1="859.3" y1="111.0" x2="865.8" y2="111.0" stroke="#000" stroke-width="2"/>
<line x1="859.3" y1="234.7" x2="865.8" y2="234.7" stroke="#000" stroke-width="2"/>
<line x1="859.3" y1="358.4" x2="865.8" y2="358.4" stroke="#000" stroke-width="2"/>
<line x1="865.8" y1="408.0" x2="865.8" y2="414.0" stroke="#000" stroke-width="2"/>
<text x="858.12" y="444.5" font-size="26" textLength="15.36" lengthAdjust="spacingAndGlyphs">0</text>
<line x1="1049.3" y1="408.0" x2="1049.3" y2="414.0" stroke="#000" stroke-width="2"/>
<text x="1033.80" y="444.5" font-size="26" textLength="30.77" lengthAdjust="spacingAndGlyphs">20</text>
<line x1="1232.9" y1="408.0" x2="1232.9" y2="414.0" stroke="#000" stroke-width="2"/>
<text x="1218.11" y="444.5" font-size="26" textLength="29.97" lengthAdjust="spacingAndGlyphs">40</text>
<line x1="1416.4" y1="408.0" x2="1416.4" y2="414.0" stroke="#000" stroke-width="2"/>
<text x="1400.86" y="444.5" font-size="26" textLength="30.79" lengthAdjust="spacingAndGlyphs">60</text>
<text x="818.05" y="120.4" font-size="26" textLength="37.27" lengthAdjust="spacingAndGlyphs">0.5</text>
<text x="840.72" y="243.9" font-size="26" textLength="15.36" lengthAdjust="spacingAndGlyphs">0</text>
<text x="808.80" y="367.9" font-size="26" textLength="46.64" lengthAdjust="spacingAndGlyphs">-0.5</text>
<text x="1020.74" y="502.8" font-size="34" textLength="266.87" lengthAdjust="spacingAndGlyphs">Days since 30-Jun</text>
<text transform="translate(784.80,372.90) rotate(-90)" x="-0.73" y="0" font-size="34.3" textLength="142.69" lengthAdjust="spacingAndGlyphs">Tendency</text>
<text transform="translate(784.80,218.90) rotate(-90)" x="-1.52" y="0" font-size="34.3" textLength="8.16" lengthAdjust="spacingAndGlyphs">(</text>
<text transform="translate(773.50,205.20) rotate(-90)" x="-0.81" y="0" font-size="19" textLength="10.72" lengthAdjust="spacingAndGlyphs">o</text>
<text transform="translate(784.80,192.50) rotate(-90)" x="-1.68" y="0" font-size="34.3" textLength="97.64" lengthAdjust="spacingAndGlyphs">C/day)</text>
</svg>
</body></html>
